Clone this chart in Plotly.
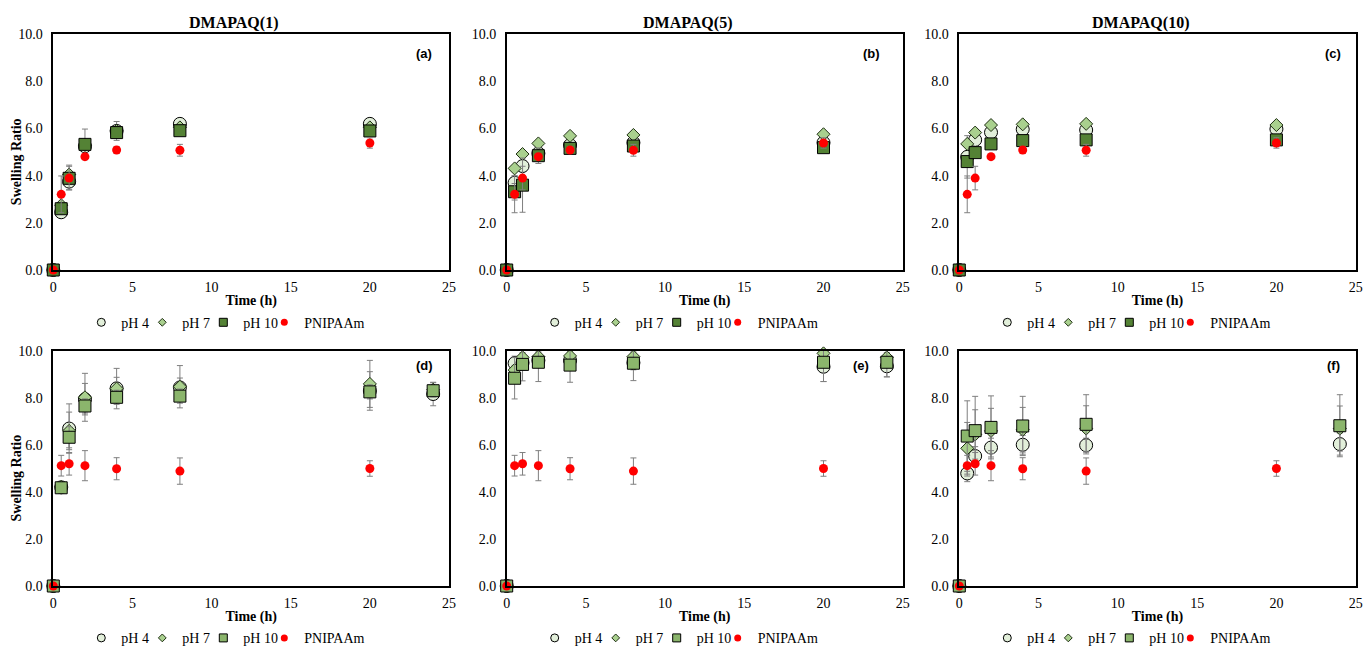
import plotly.graph_objects as go

# ---------------- data ----------------
t_top = [0, 0.5, 1, 2, 4, 8, 20]
t_bot = [0, 0.5, 1, 2, 4, 8, 20, 24]
t_f = [0, 0.5, 1, 2, 4, 8, 24]

pn_top = [0, 3.21, 3.90, 4.81, 5.09, 5.08, 5.39]
pn_top_err = [0, 0.78, 0.50, 0.10, 0.15, 0.25, 0.22]
pn_bot = [0, 5.12, 5.20, 5.12, 4.99, 4.89, 5.00]
pn_bot_err = [0, 0.44, 0.48, 0.64, 0.47, 0.56, 0.33]

a_ph4 = [0, 2.45, 3.75, 5.25, 5.90, 6.20, 6.20]
a_ph4_err = [0, 0.10, 0.35, 0.10, 0.40, 0.10, 0.10]
a_ph7 = [0, 2.75, 4.05, 5.30, 5.90, 6.05, 6.05]
a_ph7_err = [0, 0.10, 0.40, 0.10, 0.10, 0.10, 0.10]
a_ph10 = [0, 2.60, 3.89, 5.33, 5.83, 5.91, 5.90]
a_ph10_err = [0, 0.10, 0.10, 0.65, 0.10, 0.10, 0.10]

b_ph4 = [0, 3.70, 4.41, 4.95, 5.30, 5.40, 5.40]
b_ph4_err = [0, 0.30, 0.20, 0.10, 0.10, 0.10, 0.10]
b_ph7 = [0, 4.31, 4.92, 5.37, 5.69, 5.73, 5.76]
b_ph7_err = [0, 0.10, 0.10, 0.10, 0.10, 0.10, 0.10]
b_ph10 = [0, 3.32, 3.60, 4.85, 5.16, 5.26, 5.19]
b_ph10_err = [0, 0.35, 1.15, 0.33, 0.10, 0.10, 0.10]

c_ph4 = [0, 4.80, 5.52, 5.84, 5.97, 5.94, 5.98]
c_ph4_err = [0, 0.90, 0.20, 0.10, 0.10, 0.10, 0.10]
c_ph7 = [0, 5.35, 5.83, 6.15, 6.18, 6.20, 6.15]
c_ph7_err = [0, 0.10, 0.10, 0.10, 0.10, 0.10, 0.10]
c_ph10 = [0, 4.60, 4.98, 5.35, 5.49, 5.52, 5.52]
c_ph10_err = [0, 0.10, 0.10, 0.10, 0.10, 0.10, 0.10]

d_ph4 = [0, 4.20, 6.70, 7.95, 8.41, 8.45, 8.30, 8.17]
d_ph4_err = [0, 0.10, 1.05, 0.67, 0.47, 0.40, 0.82, 0.50]
d_ph7 = [0, 4.22, 6.60, 8.03, 8.40, 8.48, 8.60, 8.35]
d_ph7_err = [0, 0.10, 0.80, 1.02, 0.86, 0.90, 1.00, 0.30]
d_ph10 = [0, 4.18, 6.33, 7.66, 8.03, 8.08, 8.26, 8.31]
d_ph10_err = [0, 0.10, 0.45, 0.30, 0.30, 0.30, 0.30, 0.20]

e_ph4 = [0, 9.48, 9.50, 9.60, 9.60, 9.50, 9.33, 9.35]
e_ph4_err = [0, 0.30, 0.30, 0.30, 0.30, 0.30, 0.63, 0.45]
e_ph7 = [0, 9.19, 9.73, 9.76, 9.79, 9.76, 9.90, 9.73]
e_ph7_err = [0, 0.20, 0.20, 0.20, 0.20, 0.20, 0.10, 0.20]
e_ph10 = [0, 8.84, 9.43, 9.52, 9.40, 9.48, 9.52, 9.52]
e_ph10_err = [0, 0.88, 0.70, 0.82, 0.73, 0.74, 0.82, 0.62]

f_ph4 = [0, 4.79, 5.53, 5.89, 6.01, 5.99, 6.04]
f_ph4_err = [0, 0.35, 0.40, 0.40, 0.40, 0.30, 0.47]
f_ph7 = [0, 5.86, 6.45, 6.60, 6.65, 6.70, 6.70]
f_ph7_err = [0, 1.10, 1.05, 0.96, 0.95, 0.97, 0.96]
f_ph10 = [0, 6.38, 6.61, 6.75, 6.81, 6.88, 6.82]
f_ph10_err = [0, 1.50, 1.46, 1.34, 1.26, 1.26, 1.32]

titles = ["DMAPAQ(1)", "DMAPAQ(5)", "DMAPAQ(10)"]
panel_labels = ["(a)", "(b)", "(c)", "(d)", "(e)", "(f)"]
series_names = ["pH 4", "pH 7", "pH 10", "PNIPAAm"]
x_ticks = [0, 5, 10, 15, 20, 25]
y_ticks = [0, 2, 4, 6, 8, 10]
y_title = "Swelling Ratio"
x_title = "Time (h)"

# ---------------- style ----------------
W, H = 1365, 646
SERIF = "Liberation Serif"
C_PH4 = "#e2efda"
C_PH7 = "#a9d08e"
C_PH10_TOP = "#548235"
C_PH10_BOT = "#8bb56c"
C_RED = "#ff0000"
ERR = "#7f7f7f"

xpx = [(53.3, 449.0), (506.7, 902.7), (959.3, 1355.7)]
ypx = [(34.3, 270.0), (351.0, 586.0)]

panels = [
    (t_top, a_ph4, a_ph4_err, a_ph7, a_ph7_err, a_ph10, a_ph10_err, t_top, pn_top, pn_top_err),
    (t_top, b_ph4, b_ph4_err, b_ph7, b_ph7_err, b_ph10, b_ph10_err, t_top, pn_top, pn_top_err),
    (t_top, c_ph4, c_ph4_err, c_ph7, c_ph7_err, c_ph10, c_ph10_err, t_top, pn_top, pn_top_err),
    (t_bot, d_ph4, d_ph4_err, d_ph7, d_ph7_err, d_ph10, d_ph10_err, t_top, pn_bot, pn_bot_err),
    (t_bot, e_ph4, e_ph4_err, e_ph7, e_ph7_err, e_ph10, e_ph10_err, t_top, pn_bot, pn_bot_err),
    (t_f, f_ph4, f_ph4_err, f_ph7, f_ph7_err, f_ph10, f_ph10_err, t_top, pn_bot, pn_bot_err),
]

label_pos = [(0.938, 0.919), (0.922, 0.919), (0.943, 0.919),
             (0.938, 0.937), (0.895, 0.937), (0.945, 0.937)]

fig = go.Figure()
layout = dict(
    width=W, height=H, margin=dict(l=0, r=0, t=0, b=0, autoexpand=False),
    paper_bgcolor="white", plot_bgcolor="white", showlegend=True,
    font=dict(family=SERIF, size=14, color="#000000"),
)
annotations = []


def err(arr):
    return dict(type="data", array=arr, visible=True, color=ERR, thickness=1, width=3)


for i, (tp, p4, e4, p7, e7, p10, e10, tr, pr, er) in enumerate(panels):
    row, col = divmod(i, 3)
    n = "" if i == 0 else str(i + 1)
    xa, ya = "x" + n, "y" + n
    leg = "legend" + n
    c10 = C_PH10_TOP if row == 0 else C_PH10_BOT
    common = dict(xaxis=xa, yaxis=ya, mode="markers", showlegend=False, cliponaxis=False)
    fig.add_trace(go.Scatter(x=tp, y=p4, name=series_names[0], error_y=err(e4),
                             marker=dict(symbol="circle", size=13, color=C_PH4,
                                         line=dict(color="#000000", width=1)), **common))
    fig.add_trace(go.Scatter(x=tp, y=p7, name=series_names[1], error_y=err(e7),
                             marker=dict(symbol="diamond", size=10, color=C_PH7,
                                         line=dict(color="#1e2e12", width=1)), **common))
    fig.add_trace(go.Scatter(x=tp, y=p10, name=series_names[2], error_y=err(e10),
                             marker=dict(symbol="square", size=12, color=c10,
                                         line=dict(color="#000000", width=1)), **common))
    fig.add_trace(go.Scatter(x=tr, y=pr, name=series_names[3], error_y=err(er),
                             marker=dict(symbol="circle", size=9, color=C_RED,
                                         line=dict(width=0)), **common))
    # legend keys
    leg_specs = [("circle", 8, C_PH4, "#000000", 1), ("diamond", 6, C_PH7, "#1e2e12", 1),
                 ("square", 8, c10, "#000000", 1), ("circle", 7, C_RED, C_RED, 0)]
    for name, (sym, sz, colr, lc, lw) in zip(series_names, leg_specs):
        fig.add_trace(go.Scatter(x=[None], y=[None], xaxis=xa, yaxis=ya, mode="markers",
                                 name=name, legend=leg, showlegend=True, hoverinfo="skip",
                                 marker=dict(symbol=sym, size=sz, color=colr,
                                             line=dict(color=lc, width=lw))))
    # blank spacer entry so the last legend label is not clipped
    fig.add_trace(go.Scatter(x=[None], y=[None], xaxis=xa, yaxis=ya, mode="markers",
                             name=" ", legend=leg, showlegend=True, hoverinfo="skip",
                             marker=dict(size=1, color="rgba(0,0,0,0)", opacity=0)))

    x0, x1 = xpx[col]
    y0, y1 = ypx[row]
    axis_common = dict(showline=True, mirror=True, linecolor="#000000", linewidth=1.5,
                       showgrid=False, zeroline=False, ticks="", automargin=False,
                       tickfont=dict(family=SERIF, size=14, color="#000000"))
    layout["xaxis" + n] = dict(domain=[x0 / W, x1 / W], anchor=ya, range=[0, 25],
                               tickvals=x_ticks, ticklabelstandoff=3,
                               title=dict(text="<b>%s</b>" % x_title, standoff=2,
                                          font=dict(family=SERIF, size=14, color="#000000")),
                               **axis_common)
    layout["yaxis" + n] = dict(domain=[1 - y1 / H, 1 - y0 / H], anchor=xa, range=[0, 10],
                               tickvals=y_ticks, tickformat=".1f", ticklabelstandoff=6,
                               **axis_common)
    if col == 0:
        annotations.append(dict(text="<b>%s</b>" % y_title, xref="paper", yref="paper",
                                x=16 / W, y=1 - ((y0 + y1) / 2 + 10) / H, textangle=-90,
                                showarrow=False, xanchor="center", yanchor="middle",
                                font=dict(family=SERIF, size=14, color="#000000")))
    legend_y = 1 - (322.7 if row == 0 else 638.3) / H
    layout[leg] = dict(orientation="h", x=(x0 + 28) / W, xanchor="left", y=legend_y,
                       yanchor="middle", bgcolor="rgba(0,0,0,0)", entrywidth=16,
                       font=dict(family=SERIF, size=14, color="#000000"),
                       itemclick=False, itemdoubleclick=False)
    lx, ly = label_pos[i]
    annotations.append(dict(text="<b>%s</b>" % panel_labels[i], xref=xa + " domain",
                            yref=ya + " domain", x=lx, y=ly, showarrow=False,
                            xanchor="center", yanchor="middle",
                            font=dict(family="Liberation Sans", size=13, color="#000000")))
    if row == 0:
        annotations.append(dict(text="<b>%s</b>" % titles[col], xref="paper", yref="paper",
                                x=(x0 + x1) / 2 / W - 17.5 / W, y=1 - 23.3 / H,
                                showarrow=False, xanchor="center", yanchor="middle",
                                font=dict(family=SERIF, size=16, color="#000000")))

layout["annotations"] = annotations
fig.update_layout(**layout)
fig.write_html("out.html", config={"displayModeBar": False},
               post_script="document.body.style.margin='0px';document.body.style.overflow='hidden';")
